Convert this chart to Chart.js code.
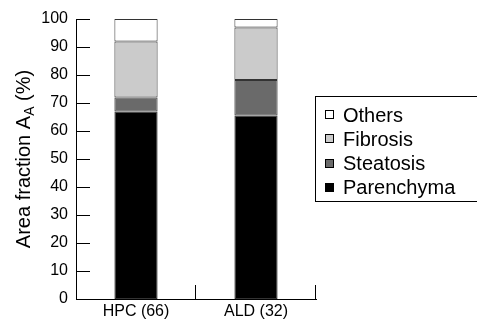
<!DOCTYPE html>
<html>
<head>
<meta charset="utf-8">
<script src="https://cdn.jsdelivr.net/npm/chart.js@4/dist/chart.umd.min.js"></script>
<style>
  html, body { margin: 0; padding: 0; background: #fff; }
  #wrap { width: 477px; height: 320px; }
</style>
</head>
<body>
<div id="wrap"><canvas id="canvasArea"></canvas></div>
<script>
"use strict";

// data
var categories = ['HPC (66)', 'ALD (32)'];
var parenchyma = [67, 65.5];
var steatosis = [5, 12.7];
var fibrosis = [20, 18.8];
var others = [8, 3];
var yTicks = [0, 10, 20, 30, 40, 50, 60, 70, 80, 90, 100];

var fontFamily = "'Liberation Sans', Arial, sans-serif";
Chart.defaults.font.family = fontFamily;
Chart.defaults.color = '#000';

// inward ticks, category separators, y title with subscript, boxed legend
var extrasPlugin = {
	id: 'extras',
	afterDraw: function (chart) {
		var ctx = chart.ctx;
		var area = chart.chartArea;
		var x = chart.scales.x;
		var y = chart.scales.y;

		ctx.save();
		ctx.strokeStyle = '#000';
		ctx.lineWidth = 1;

		// y ticks pointing into the plot
		yTicks.forEach(function (v) {
			var py = Math.round(y.getPixelForValue(v)) + 0.5;
			ctx.beginPath();
			ctx.moveTo(area.left, py);
			ctx.lineTo(area.left + 14, py);
			ctx.stroke();
		});

		// x separator ticks between categories and at the end
		for (var i = 0; i < categories.length; i++) {
			var px;
			if (i < categories.length - 1) {
				px = (x.getPixelForValue(i) + x.getPixelForValue(i + 1)) / 2;
			} else {
				px = area.right;
			}
			px = Math.round(px) - 0.5;
			ctx.beginPath();
			ctx.moveTo(px, area.bottom);
			ctx.lineTo(px, area.bottom - 14);
			ctx.stroke();
		}

		// y axis title: Area fraction A_A (%)
		var big = '20px ' + fontFamily;
		var small = '14px ' + fontFamily;
		var part1 = 'Area fraction A';
		var sub = 'A';
		var part2 = ' (%)';
		ctx.font = big;
		var w1 = ctx.measureText(part1).width;
		var w3 = ctx.measureText(part2).width;
		ctx.font = small;
		var w2 = ctx.measureText(sub).width;
		var total = w1 + w2 + w3;
		ctx.translate(30, (area.top + area.bottom) / 2);
		ctx.rotate(-Math.PI / 2);
		ctx.fillStyle = '#000';
		ctx.textBaseline = 'alphabetic';
		ctx.textAlign = 'left';
		var sx = -total / 2;
		ctx.font = big;
		ctx.fillText(part1, sx, 0);
		ctx.font = small;
		ctx.fillText(sub, sx + w1, 4);
		ctx.font = big;
		ctx.fillText(part2, sx + w1 + w2, 0);
		ctx.restore();

		// legend in a box, stacking order reversed
		ctx.save();
		ctx.strokeStyle = '#000';
		ctx.lineWidth = 1;
		ctx.strokeRect(315.5, 96.5, 200, 105);
		ctx.font = '20px ' + fontFamily;
		ctx.textBaseline = 'middle';
		ctx.textAlign = 'left';
		var sets = chart.data.datasets.slice().reverse();
		sets.forEach(function (ds, k) {
			var cy = 115 + k * 24.3;
			ctx.fillStyle = ds.backgroundColor;
			ctx.fillRect(325.5, Math.round(cy) - 4.5, 8, 8);
			ctx.strokeStyle = '#000';
			ctx.strokeRect(325.5, Math.round(cy) - 4.5, 8, 8);
			ctx.fillStyle = '#000';
			ctx.fillText(ds.label, 343, cy + 1);
		});
		ctx.restore();
	}
};

function MakeDataset(label, values, color) {
	return {
		label: label,
		data: values,
		backgroundColor: color,
		borderColor: '#333',
		borderWidth: 1,
		borderSkipped: false,
		categoryPercentage: 1.0,
		barPercentage: 0.36
	};
}

const context = document.getElementById('canvasArea');
const myChart = new Chart(context, {
	type: 'bar',
	data: {
		labels: categories,
		datasets: [
			MakeDataset('Parenchyma', parenchyma, '#000000'),
			MakeDataset('Steatosis', steatosis, '#6a6a6a'),
			MakeDataset('Fibrosis', fibrosis, '#cbcbcb'),
			MakeDataset('Others', others, '#ffffff')
		]
	},
	options: {
		responsive: true,
		maintainAspectRatio: false,
		animation: false,
		layout: { padding: { top: 19, right: 161, left: 0, bottom: 0 } },
		plugins: {
			legend: { display: false },
			tooltip: { enabled: false }
		},
		scales: {
			x: {
				stacked: true,
				grid: { display: false, drawTicks: false },
				border: { display: true, color: '#000', width: 1 },
				ticks: { font: { size: 16 }, padding: 3, maxRotation: 0 },
				afterFit: function (scale) { scale.height = 21; }
			},
			y: {
				stacked: true,
				min: 0,
				max: 100,
				grid: { display: false, drawTicks: false },
				border: { display: true, color: '#000', width: 1 },
				ticks: { stepSize: 10, font: { size: 16 }, padding: 8 },
				afterFit: function (scale) { scale.width = 76; }
			}
		}
	},
	plugins: [extrasPlugin]
});
</script>
</body>
</html>
